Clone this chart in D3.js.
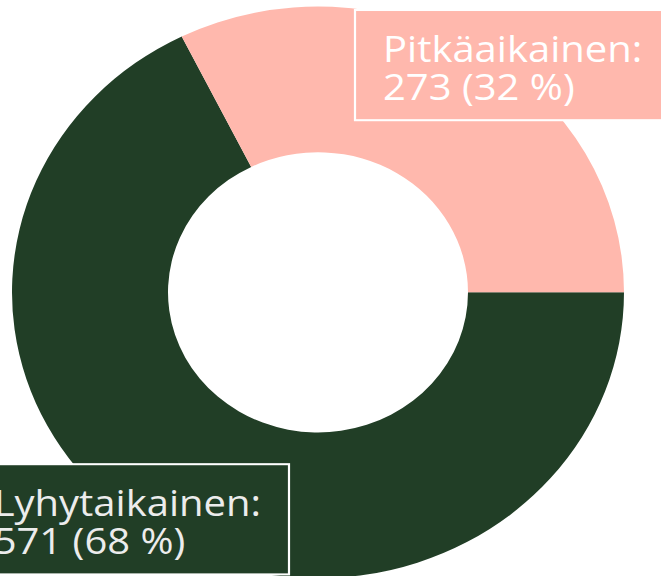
<!DOCTYPE html>
<html>
<head>
<meta charset="utf-8">
<script src="https://cdn.jsdelivr.net/npm/d3@7"></script>
<style>
  html, body { margin: 0; padding: 0; background: #fff; overflow: hidden; }
  svg { display: block; }
</style>
</head>
<body>
<div id="chart"></div>
<script>
// Data
const categories = ["Lyhytaikainen", "Pitkäaikainen"];
const values = [571, 273];
const percents = [68, 32];
const colors = ["#213e26", "#ffb8ad"];
const textColors = ["#ececec", "#ffffff"];

const width = 661, height = 576;
const squash = 0.934; // picture is slightly flattened vertically

const svg = d3.select("#chart")
    .append("svg")
    .attr("width", width)
    .attr("height", height);

const g = svg.append("g")
    .attr("transform", `scale(1, ${squash})`);

const cx = 318, cy = 313;
const outerR = 306, innerR = 150;

const data = categories.map((c, i) => ({ name: c, value: values[i], pct: percents[i], color: colors[i], text: textColors[i] }));

const pie = d3.pie()
    .value(d => d.value)
    .sort(null)
    .startAngle(Math.PI / 2)
    .endAngle(Math.PI / 2 + 2 * Math.PI);

const arc = d3.arc().innerRadius(innerR).outerRadius(outerR);

const donut = g.append("g").attr("transform", `translate(${cx},${cy})`);

donut.selectAll("path")
    .data(pie(data))
    .enter()
    .append("path")
    .attr("d", arc)
    .attr("fill", d => d.data.color);

// Labels: boxes with white border
const labelPos = {
    "Pitkäaikainen": { side: "left", x: 355, y: 10.7 },
    "Lyhytaikainen": { side: "right", x: 289, y: 497 }
};
const fontSize = 40, pad = 28, boxH = 118;

data.forEach(d => {
    const p = labelPos[d.name];
    const lab = g.append("g");
    const rect = lab.append("rect")
        .attr("fill", d.color)
        .attr("stroke", "#ffffff")
        .attr("stroke-width", 2.2);
    const t = lab.append("text")
        .attr("font-family", "'Open Sans', sans-serif")
        .attr("font-size", fontSize)
        .attr("fill", d.text);
    t.append("tspan").attr("x", 0).attr("y", 55.7).text(d.name + ":");
    t.append("tspan").attr("x", 0).attr("y", 55.7 + 40.6)
        .text(`${d.value} (${d.pct} %)`);
    const w = t.node().getComputedTextLength ? t.node().getBBox().width : 260;
    const boxW = w + pad * 2;
    const left = p.side === "left" ? p.x : p.x - boxW;
    rect.attr("x", 0).attr("y", 0).attr("width", boxW).attr("height", boxH);
    t.selectAll("tspan").attr("x", pad);
    lab.attr("transform", `translate(${left},${p.y})`);
});
</script>
</body>
</html>
